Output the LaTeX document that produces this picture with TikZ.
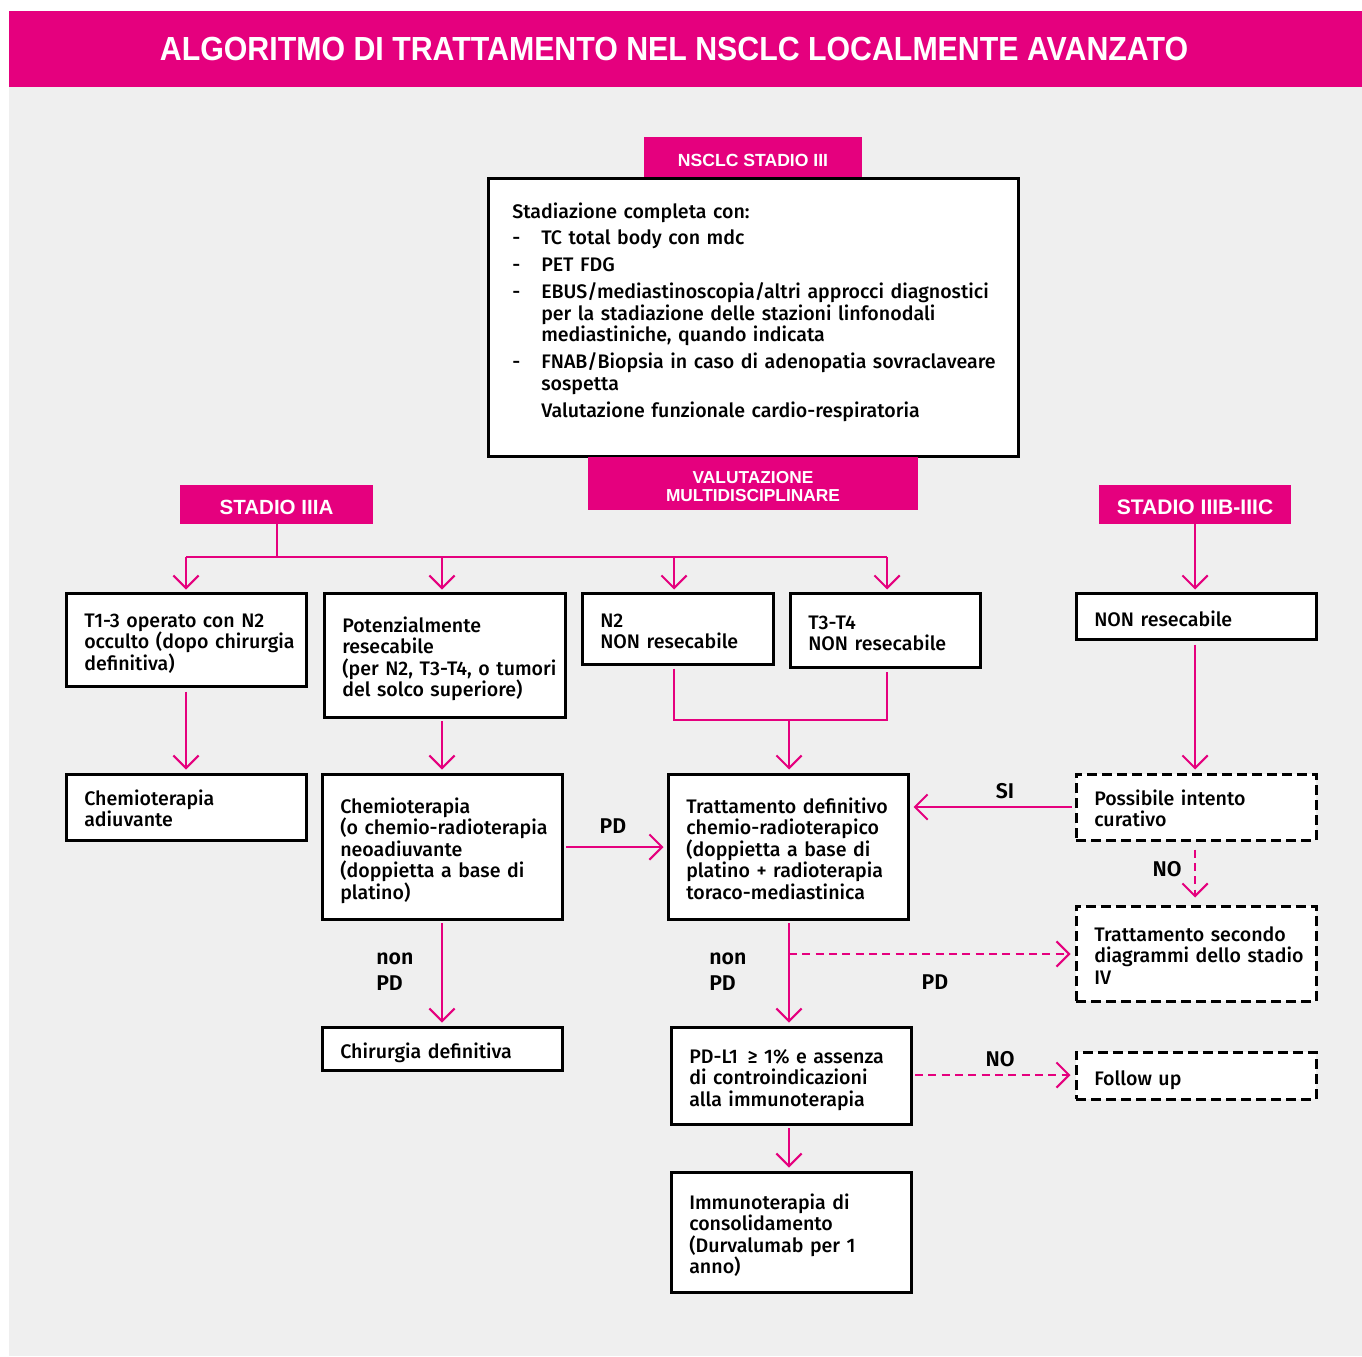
\documentclass[tikz,border=0pt]{standalone}
\usepackage{graphicx}
\usepackage{fontspec}
\setmainfont{Fira Sans}[UprightFont=* Medium, BoldFont=* SemiBold]
\newfontfamily\tabfont{Liberation Sans}
\usetikzlibrary{arrows.meta,calc,fit}
\definecolor{pk}{RGB}{229,0,126}
\definecolor{bg}{RGB}{239,239,239}
\newcommand\bodysize{\fontsize{14.7pt}{16.125pt}\selectfont}
\newcommand\labsize{\fontsize{16pt}{19.5pt}\selectfont\bfseries}
\newcommand\dashitem{\makebox[21.75pt][l]{-}}
\newcommand\indt{\hspace*{21.75pt}}
\begin{document}
\begin{tikzpicture}[x=0.75pt,y=-0.75pt,
  box/.style={draw=black, line width=2.25pt, fill=white, inner sep=0pt, rectangle},
  dbox/.style={box, dash pattern=on 7.5pt off 3.75pt},
  tabbox/.style={fill=pk, draw=none, inner sep=0pt, rectangle},
  tabtxt/.style={text=white, font=\tabfont\bfseries, inner sep=0pt, align=center},
  txt/.style={anchor=base west, align=left, inner sep=0pt, font=\bodysize, text width=210pt},
  lab/.style={font=\labsize, inner sep=0pt},
  pkl/.style={draw=pk, line width=1.5pt},
  arr/.style={pkl, -{Straight Barb[length=9.5pt, width=19pt, line width=1.5pt]}},
  dsh/.style={dash pattern=on 6pt off 4pt}
]
\useasboundingbox (0,0) rectangle (1362,1356);
\fill[white] (0,0) rectangle (1362,1356);
\fill[bg] (9,87) rectangle (1362,1356);
\fill[pk] (9,11) rectangle (1362,87);
\node[text=white, inner sep=0pt] (title) at (674,49)
  {\resizebox{771pt}{17.5pt}{\tabfont\bfseries ALGORITMO DI TRATTAMENTO NEL NSCLC LOCALMENTE AVANZATO}};

% top box and tabs
\node[tabbox, fit={(644,137) (862,178)}] (t1) {};
\node[tabtxt, font=\tabfont\bfseries\fontsize{13.2pt}{14pt}\selectfont] (t1t) at (753,160) {NSCLC STADIO III};
\node[box, fit={(488,178) (1018,456)}] (m) {};
\node[tabbox, fit={(588,457) (918,510)}] (t2) {};
\node[tabtxt, font=\tabfont\bfseries\fontsize{13pt}{13.5pt}\selectfont] (t2t) at (753,487) {VALUTAZIONE\\MULTIDISCIPLINARE};
\node[txt, text width=400pt] (mt) at (512,218) {Stadiazione completa con:\\[4.1pt]
\dashitem TC total body con mdc\\[4.1pt]
\dashitem PET FDG\\[4.1pt]
\dashitem EBUS/mediastinoscopia/altri approcci diagnostici\\
\indt per la stadiazione delle stazioni linfonodali\\
\indt mediastiniche, quando indicata\\[4.1pt]
\dashitem FNAB/Biopsia in caso di adenopatia sovraclaveare\\
\indt sospetta\\[4.1pt]
\indt Valutazione funzionale cardio-respiratoria};

\node[tabbox, fit={(180,485) (373,524)}] (t3) {};
\node[tabtxt, font=\tabfont\bfseries\fontsize{15.4pt}{16pt}\selectfont] (t3t) at (276.5,507) {STADIO IIIA};
\node[tabbox, fit={(1099,485) (1291,524)}] (t4) {};
\node[tabtxt, font=\tabfont\bfseries\fontsize{15.8pt}{16pt}\selectfont] (t4t) at (1195,507) {STADIO IIIB-IIIC};

% row 1
\node[box, fit={(66,593) (306,686)}] (b1) {};
\node[txt] (b1t) at (84,627) {T1-3 operato con N2\\occulto (dopo chirurgia\\definitiva)};
\node[box, fit={(324,593) (565,717)}] (b2) {};
\node[txt] (b2t) at (342,632) {Potenzialmente\\resecabile\\(per N2, T3-T4, o tumori\\del solco superiore)};
\node[box, fit={(582,593) (773,664)}] (b3) {};
\node[txt] (b3t) at (600,627) {N2\\NON resecabile};
\node[box, fit={(790,593) (980,667)}] (b4) {};
\node[txt] (b4t) at (808,629) {T3-T4\\NON resecabile};
\node[box, fit={(1076,593) (1316,639)}] (b5) {};
\node[txt] (b5t) at (1094,626) {NON resecabile};

% row 2
\node[box, fit={(66,774) (306,840)}] (c1) {};
\node[txt] (c1t) at (84,805) {Chemioterapia\\adiuvante};
\node[box, fit={(322,774) (562,919)}] (c2) {};
\node[txt] (c2t) at (340,813) {Chemioterapia\\(o chemio-radioterapia\\neoadiuvante\\(doppietta a base di\\platino)};
\node[box, fit={(668,774) (908,919)}] (c3) {};
\node[txt] (c3t) at (686,813) {Trattamento definitivo\\chemio-radioterapico\\(doppietta a base di\\platino + radioterapia\\toraco-mediastinica};
\node[dbox, fit={(1076,774) (1316,840)}] (c4) {};
\node[txt] (c4t) at (1094,805) {Possibile intento\\curativo};

% row 3
\node[dbox, fit={(1076,906) (1316,1001)}] (d4) {};
\node[txt] (d4t) at (1094,941) {Trattamento secondo\\diagrammi dello stadio\\IV};
\node[box, fit={(322,1027) (562,1070)}] (d2) {};
\node[txt] (d2t) at (340,1058) {Chirurgia definitiva};
\node[box, fit={(671,1027) (911,1124)}] (d3) {};
\node[txt] (d3t) at (689,1063) {PD-L1 \,≥ 1\% e assenza\\di controindicazioni\\alla immunoterapia};
\node[dbox, fit={(1076,1052) (1316,1099)}] (e4) {};
\node[txt] (e4t) at (1094,1085) {Follow up};
\node[box, fit={(671,1172) (911,1292)}] (e3) {};
\node[txt] (e3t) at (689,1209) {Immunoterapia di\\consolidamento\\(Durvalumab per 1\\anno)};

% connectors
\coordinate (j0) at (276.5,557);
\coordinate (x1) at (186,557);
\coordinate (x2) at (442,557);
\coordinate (x3) at (674,557);
\coordinate (x4) at (887,557);
\draw[pkl] (t3.south) -- (j0);
\draw[pkl] (x1) -- (x4);
\draw[arr] (x1) -- ($(x1 |- b1.north)+(0,-2)$);
\draw[arr] (x2) -- ($(x2 |- b2.north)+(0,-2)$);
\draw[arr] (x3) -- ($(x3 |- b3.north)+(0,-2)$);
\draw[arr] (x4) -- ($(x4 |- b4.north)+(0,-2)$);
\draw[arr] (t4.south) -- ($(t4.south |- b5.north)+(0,-2)$);

\draw[arr] ($(b1.south)+(0,4)$) -- ($(c1.north)+(0,-3)$);
\coordinate (y2) at (442,721);
\draw[arr] (y2) -- ($(y2 |- c2.north)+(0,-3)$);
\coordinate (m1) at (674,720);
\coordinate (m2) at (887,720);
\coordinate (m0) at (789,720);
\draw[pkl] ($(m1 |- b3.south)+(0,3)$) -- (m1) -- (m2) -- ($(m2 |- b4.south)+(0,3)$);
\draw[arr] (m0) -- ($(m0 |- c3.north)+(0,-3)$);
\draw[arr] ($(b5.south)+(-1,4)$) -- ($(c4.north)+(-1,-3)$);

\coordinate (si) at (1072,807);
\draw[arr] (si) -- ($(si -| c3.east)+(4,0)$);
\node[lab] (lsi) at (1005,791) {SI};
\coordinate (p1) at (566,847);
\draw[arr] (p1) -- ($(p1 -| c3.west)+(-3,0)$);
\node[lab] (lpd1) at (613,826) {PD};
\draw[arr, dsh] ($(c4.south)+(-1,8)$) -- ($(d4.north)+(-1,-7)$);
\node[lab] (lno1) at (1167,869) {NO};

\coordinate (q2) at (442,923);
\draw[arr] (q2) -- ($(q2 |- d2.north)+(0,-3)$);
\node[lab, anchor=base west, align=left, text width=60pt] (lnp1) at (376,964) {non\\PD};
\coordinate (q3) at (789,923);
\draw[arr] (q3) -- ($(q3 |- d3.north)+(0,-3)$);
\node[lab, anchor=base west, align=left, text width=60pt] (lnp2) at (709,964) {non\\PD};
\coordinate (q4) at (789,954);
\draw[arr, dsh] (q4) -- ($(q4 -| d4.west)+(-4,0)$);
\node[lab] (lpd2) at (935,982) {PD};

\coordinate (r1) at (915,1075);
\draw[arr, dsh] (r1) -- ($(r1 -| e4.west)+(-4,0)$);
\node[lab] (lno2) at (1000,1059) {NO};
\coordinate (s1) at (789,1128);
\draw[arr] (s1) -- ($(s1 |- e3.north)+(0,-3)$);
\end{tikzpicture}
\end{document}
